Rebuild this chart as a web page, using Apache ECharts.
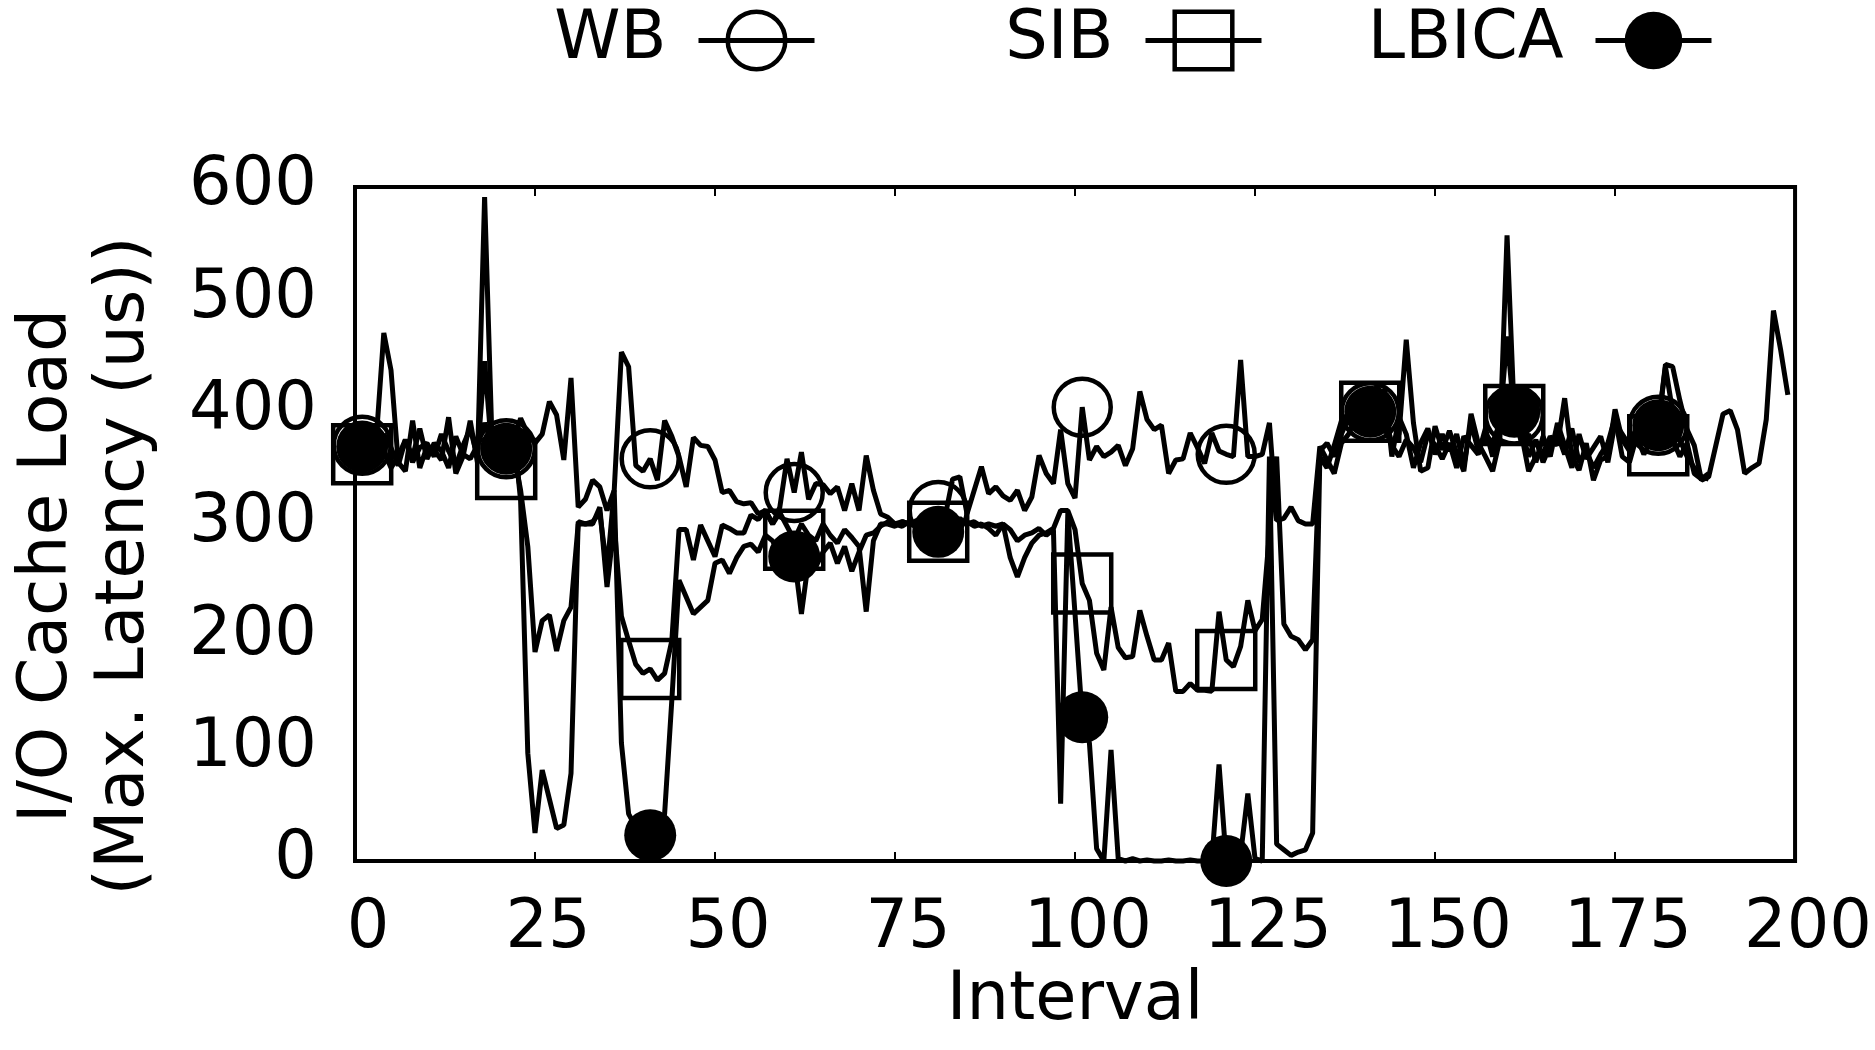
<!DOCTYPE html>
<html><head><meta charset="utf-8">
<script src="https://cdn.jsdelivr.net/npm/echarts@6/dist/echarts.min.js"></script>
<style>html,body{margin:0;padding:0;background:#fff}#c{width:1875px;height:1050px}</style>
</head><body><div id="c"></div>
<script>
// Interval index starts at 1; markers every 20 points
const WB = [
 370,365,380,470,437,355,347,392,350,369,
 366,357,395,345,360,392,355,591,380,370,
 367,375,394,380,372,380,409,397,357,430,
 315,322,339,333,312,330,453,440,352,347,
 358,339,392,378,360,333,377,370,369,357,
 328,330,320,318,319,309,312,300,315,358,
 328,364,322,336,335,327,333,312,336,312,
 361,330,309,306,300,302,300,303,306,312,
 312,308,340,342,309,330,351,327,333,325,
 321,330,312,324,361,345,336,384,336,323,
 404,357,369,360,364,370,352,367,418,393,
 384,388,345,357,358,381,368,354,381,365,
 362,360,446,360,360,362,390,303,305,315,
 303,300,300,369,357,345,372,380,395,400,
 400,425,395,372,380,464,390,347,350,387,
 366,383,363,347,398,372,360,347,375,557,
 397,380,347,360,363,378,370,412,360,348,
 372,339,357,360,402,375,365,380,385,388,
 388,442,440,410,384,370,339,342,370,398,
 401,384,345,350,354,393,490,455,415
];
const SIB = [
 362,358,372,365,350,360,375,355,368,372,
 360,380,365,352,370,385,360,445,365,350,
 349,365,330,280,186,214,219,187,214,226,
 300,300,300,315,244,300,218,196,175,167,
 171,161,167,196,295,295,268,299,285,271,
 299,296,292,292,308,304,312,300,310,298,
 286,300,290,285,300,290,283,295,288,280,
 222,285,300,300,298,302,300,298,300,302,
 293,298,300,305,300,302,298,300,298,300,
 270,253,270,283,290,292,296,312,312,295,
 247,232,185,170,226,190,181,182,223,200,
 179,179,194,151,151,158,152,152,151,222,
 179,173,191,232,205,215,292,360,211,200,
 197,188,197,365,372,360,380,395,400,405,
 400,398,420,360,395,380,350,372,385,362,
 380,365,380,352,390,365,380,372,390,467,
 397,385,360,375,355,370,380,362,385,355,
 365,350,362,372,395,360,355,378,362,375,
 370,395,375,360,372,345,340,345
];
const LBICA = [
 369,372,358,380,368,352,375,360,385,358,
 372,365,350,378,362,358,370,390,372,365,
 367,385,321,96,25,81,55,29,32,78,
 302,300,302,310,259,330,105,42,30,25,
 23,25,42,143,250,235,220,226,232,265,
 268,256,270,280,282,275,290,285,272,280,
 271,220,268,262,275,283,265,280,258,275,
 290,292,298,302,300,298,302,300,298,300,
 293,298,302,300,302,298,300,296,290,300,
 295,285,290,292,296,290,295,51,310,220,
 128,105,11,0,99,2,0,2,0,1,
 0,0,1,0,0,1,0,0,0,86,
 0,3,6,60,2,0,360,15,10,5,
 8,10,25,360,350,370,392,398,402,405,
 400,410,385,370,360,375,368,355,380,370,
 358,372,350,378,370,362,385,360,395,420,
 400,372,380,355,378,360,390,370,350,380,
 358,368,378,355,390,380,370,385,392,390,
 388,440,400,375,360,350,342,340
];
const X_TICKS = [0, 25, 50, 75, 100, 125, 150, 175, 200];
const Y_TICKS = [0, 100, 200, 300, 400, 500, 600];
const SERIES_NAMES = ['WB', 'SIB', 'LBICA'];
const X_NAME = 'Interval';
const Y_NAME = 'I/O Cache Load\n(Max. Latency (us))';

const FONT = 'DejaVu Sans';
const FS = 67;
const LW = 5;

function build(arr) {
  return arr.map((v, i) => (i % 20 === 0) ? [i + 1, v] : { value: [i + 1, v], symbol: 'none' });
}

const chart = echarts.init(document.getElementById('c'), null, { renderer: 'canvas' });

const legendCommon = {
  orient: 'horizontal', align: 'right', itemWidth: 116, itemHeight: 72, padding: 0, top: 7,
  selectedMode: false,
  textStyle: { fontFamily: FONT, fontSize: FS, color: '#000', padding: [0, 27, 0, 0] },
  lineStyle: { width: LW, color: '#000' }
};
const hollow = { color: 'rgba(0,0,0,0)', borderColor: '#000', borderWidth: 4.5 };

chart.setOption({
  animation: false,
  backgroundColor: '#fff',
  grid: { left: 355, right: 70, top: 187, bottom: 189, show: true, borderColor: '#000', borderWidth: 4, backgroundColor: 'rgba(0,0,0,0)' },
  legend: [
    Object.assign({}, legendCommon, { data: [SERIES_NAMES[0]], right: 1058, itemStyle: hollow }),
    Object.assign({}, legendCommon, { data: [SERIES_NAMES[1]], right: 611, itemStyle: hollow }),
    Object.assign({}, legendCommon, { data: [SERIES_NAMES[2]], right: 161, itemStyle: { color: '#000', borderColor: '#000', borderWidth: 0 } })
  ],
  xAxis: [
    {
      type: 'value', min: X_TICKS[0], max: X_TICKS[X_TICKS.length - 1], interval: X_TICKS[1] - X_TICKS[0],
      position: 'bottom',
      name: X_NAME, nameLocation: 'middle', nameGap: 80,
      nameTextStyle: { fontFamily: FONT, fontSize: FS, color: '#000' },
      axisLine: { show: false },
      axisTick: { show: true, inside: true, length: 9, lineStyle: { color: '#000', width: 2 } },
      splitLine: { show: false },
      axisLabel: { fontFamily: FONT, fontSize: FS, color: '#000', margin: 35, padding: [0, 0, 0, 26] }
    },
    {
      type: 'value', min: X_TICKS[0], max: X_TICKS[X_TICKS.length - 1], interval: X_TICKS[1] - X_TICKS[0],
      position: 'top',
      axisLine: { show: false },
      axisTick: { show: true, inside: true, length: 9, lineStyle: { color: '#000', width: 2 } },
      splitLine: { show: false },
      axisLabel: { show: false }
    }
  ],
  yAxis: {
    type: 'value', min: Y_TICKS[0], max: Y_TICKS[Y_TICKS.length - 1], interval: Y_TICKS[1] - Y_TICKS[0],
    axisLine: { show: false },
    axisTick: { show: false },
    splitLine: { show: false },
    axisLabel: { fontFamily: FONT, fontSize: FS, color: '#000', margin: 38 }
  },
  graphic: [{
    type: 'text', x: 87, y: 566, rotation: Math.PI / 2,
    style: { text: Y_NAME, fontFamily: FONT, fontSize: 68, fill: '#000', align: 'center', verticalAlign: 'middle', lineHeight: 77 }
  }],
  series: [
    {
      name: SERIES_NAMES[0], type: 'line', data: build(WB), symbol: 'circle', symbolSize: 57,
      showSymbol: true, showAllSymbol: true, clip: false, z: 2,
      lineStyle: { color: '#000', width: LW }, itemStyle: hollow,
      emphasis: { disabled: true }
    },
    {
      name: SERIES_NAMES[1], type: 'line', data: build(SIB), symbol: 'rect', symbolSize: 58,
      showSymbol: true, showAllSymbol: true, clip: false, z: 3,
      lineStyle: { color: '#000', width: LW }, itemStyle: hollow,
      emphasis: { disabled: true }
    },
    {
      name: SERIES_NAMES[2], type: 'line', data: build(LBICA), symbol: 'circle', symbolSize: 52,
      showSymbol: true, showAllSymbol: true, clip: false, z: 4,
      lineStyle: { color: '#000', width: LW }, itemStyle: { color: '#000', borderColor: '#000', borderWidth: 0 },
      emphasis: { disabled: true }
    }
  ]
});
</script>
</body></html>
